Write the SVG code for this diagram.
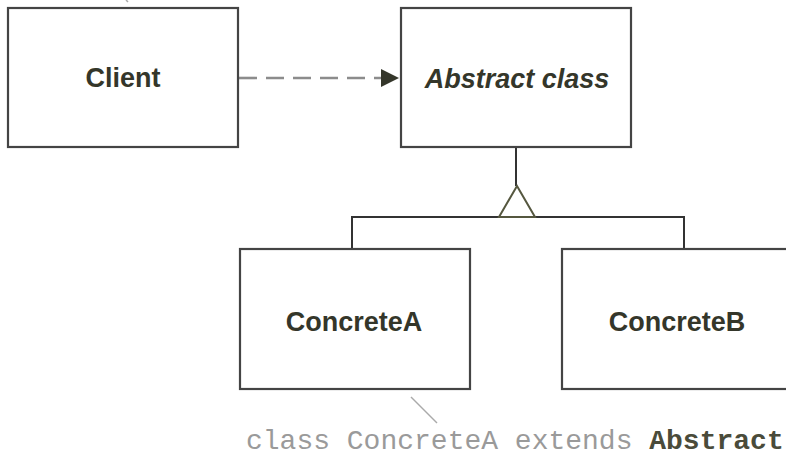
<svg xmlns="http://www.w3.org/2000/svg" width="786" height="459" viewBox="0 0 786 459">
<defs>
<style>
.box{fill:#fff;stroke:#444;stroke-width:2.2}
.lbl{font-family:"Liberation Sans",Arial,sans-serif;font-weight:bold;font-size:27px;fill:#34362a;text-anchor:middle}
.wire{fill:none;stroke:#333;stroke-width:2}
.code{font-family:"Liberation Mono","Courier New",monospace;font-size:28px;fill:#9a9a9a}
</style>
<marker id="arr" markerWidth="18" markerHeight="18" refX="18" refY="9" orient="auto" markerUnits="userSpaceOnUse">
<path d="M0,0 L18,9 L0,18 Z" fill="#34362a"/>
</marker>
</defs>
<rect width="786" height="459" fill="#fff"/>
<line x1="126" y1="0" x2="128" y2="2" stroke="#aaa" stroke-width="1.5"/>
<g id="connectors">
<line x1="239" y1="78" x2="399" y2="78" stroke="#8c8c8c" stroke-width="2.6" stroke-dasharray="18,9" marker-end="url(#arr)"/>
<line class="wire" x1="516" y1="148" x2="516" y2="186"/>
<polyline class="wire" points="352,249 352,217 684,217 684,249"/>
<polygon points="517,186 499,217 535,217" fill="#fff" stroke="#55573f" stroke-width="2"/>
<line x1="411" y1="397" x2="437" y2="423" stroke="#aaa" stroke-width="1.5"/>
</g>
<g id="client">
<rect class="box" x="8" y="8" width="230" height="139"/>
<text class="lbl" x="123" y="87">Client</text>
</g>
<g id="abstract">
<rect class="box" x="401" y="8" width="230" height="139"/>
<text class="lbl" x="517" y="88" font-style="italic">Abstract class</text>
</g>
<g id="concreteA">
<rect class="box" x="240" y="249" width="230" height="140"/>
<text class="lbl" x="354" y="331">ConcreteA</text>
</g>
<g id="concreteB">
<rect class="box" x="562" y="249" width="240" height="140"/>
<text class="lbl" x="677" y="331">ConcreteB</text>
</g>
<text class="code" x="246" y="449">class ConcreteA extends <tspan font-weight="bold" fill="#4a4b3a">Abstract</tspan></text>
</svg>
